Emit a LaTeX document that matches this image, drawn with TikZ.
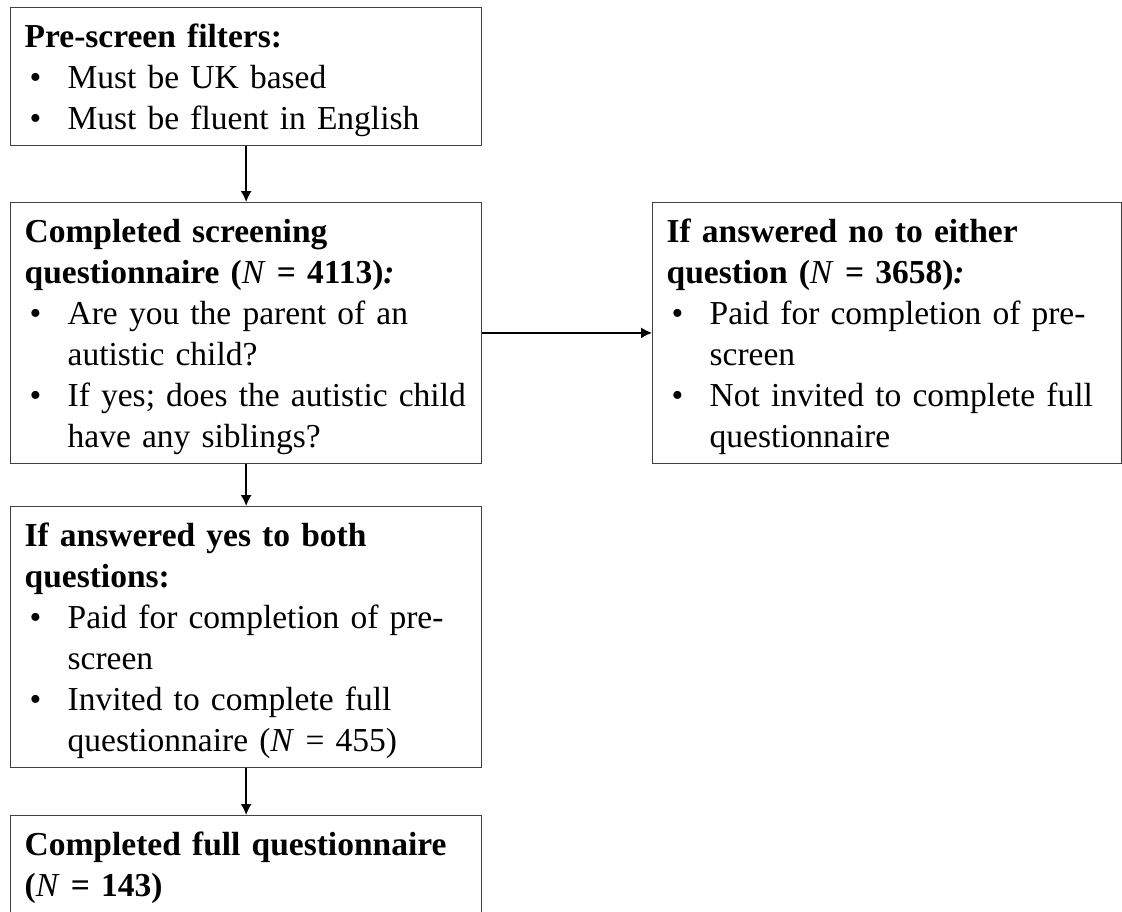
\documentclass[tikz,border=0pt]{standalone}
\usepackage{fontspec}
\setmainfont{Liberation Serif}
\usetikzlibrary{arrows.meta}

\hyphenpenalty=10000
\tikzset{
	stage/.style={draw=black!75, line width=1.3pt, anchor=north west, inner xsep=14pt, inner ysep=0pt, text width=443pt, align=left, font={\fontsize{33.5pt}{41pt}\selectfont}},
	flow/.style={line width=1.5pt, -{Latex[length=11pt,width=11pt]}}
}
\newcommand\headline[1]{\rule{0pt}{39.5pt}\textbf{#1}}
\newcommand\bul{\par\noindent\hangindent=43pt\hangafter=1\makebox[43pt][l]{\hspace{5pt}\textbullet}}
\newcommand\nl{\hfil\break}
\newcommand\finish{\rule[-16pt]{0pt}{16pt}\par}

\begin{document}
\begin{tikzpicture}
		\useasboundingbox (0pt, 0pt) rectangle (1122pt, -911pt);
		\node[stage] (filters) at (10pt, -7pt) {\headline{Pre-screen filters:}
			\bul Must be UK based
			\bul Must be fluent in English\finish};
		\node[stage] (screening) at (10pt, -202pt) {\headline{Completed screening\nl questionnaire (\textmd{\textit{N}} = 4113)\textit{:}}
			\bul Are you the parent of an\nl autistic child?
			\bul If yes; does the autistic child\nl have any siblings?\finish};
		\node[stage, text width=441pt] (excluded) at (652pt, -202pt) {\headline{If answered no to either\nl question (\textmd{\textit{N}} = 3658)\textit{:}}
			\bul Paid for completion of pre-\nl screen
			\bul Not invited to complete full\nl questionnaire\finish};
		\node[stage] (invited) at (10pt, -506pt) {\headline{If answered yes to both\nl questions:}
			\bul Paid for completion of pre-\nl screen
			\bul Invited to complete full\nl questionnaire (\textit{N} = 455)\finish};
		\node[stage] (completed) at (10pt, -815pt) {\headline{Completed full questionnaire\nl (\textmd{\textit{N}} = 143)}\finish};
		\draw[flow] (filters) -- (screening);
		\draw[flow] (screening.east) -- (screening.east -| excluded.west);
		\draw[flow] (screening) -- (invited);
		\draw[flow] (invited) -- (completed);
	\end{tikzpicture}
\end{document}
